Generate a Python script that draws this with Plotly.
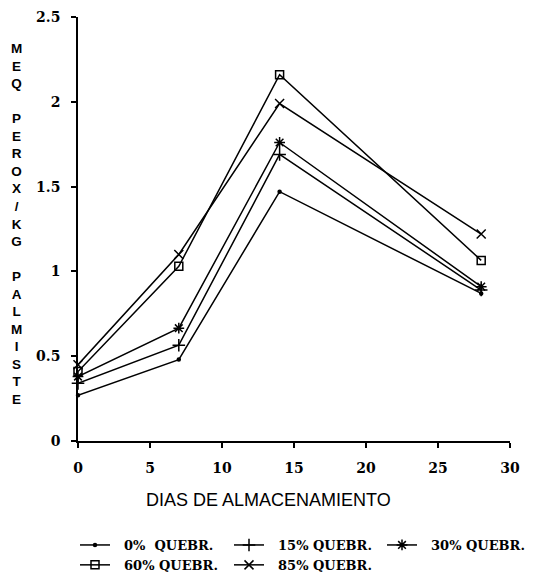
import plotly.graph_objects as go

days = [0, 7, 14, 28]
series_names = ["0%\u00a0\u00a0QUEBR.", "15% QUEBR.", "30% QUEBR.", "60% QUEBR.", "85% QUEBR."]
v0 = [0.27, 0.48, 1.47, 0.87]
v15 = [0.34, 0.565, 1.69, 0.89]
v30 = [0.38, 0.665, 1.76, 0.91]
v60 = [0.41, 1.03, 2.16, 1.065]
v85 = [0.45, 1.10, 1.99, 1.22]
x_ticks = [0, 5, 10, 15, 20, 25, 30]
y_ticks = [0, 0.5, 1, 1.5, 2, 2.5]
y_tick_text = ["0", "0.5", "1", "1.5", "2", "2.5"]
y_title = "MEQ PEROX/KG PALMISTE"
x_title = "DIAS DE ALMACENAMIENTO"

values = [v0, v15, v30, v60, v85]
symbols = ["circle", "cross-thin-open", "asterisk-open", "square-open", "x-thin-open"]
sizes = [3, 9, 9, 8, 9]
legends = ["legend", "legend2", "legend3", "legend", "legend2"]

fig = go.Figure()
for name, vals, sym, sz, lg in zip(series_names, values, symbols, sizes, legends):
    fig.add_trace(go.Scatter(
        x=days, y=vals, mode="lines+markers", name="\u00a0\u00a0" + name,
        line=dict(color="black", width=1.5),
        marker=dict(symbol=sym, size=sz, color="black", line=dict(color="black", width=1.5)),
        legend=lg, cliponaxis=False,
    ))

tickfont = dict(family="DejaVu Serif", size=14, color="black", weight="bold")
legfont = dict(family="DejaVu Serif", size=13, color="black", weight="bold")

def leg(xpix):
    return dict(x=xpix / 548, y=1 - 530 / 582, xref="container", yref="container",
                xanchor="left", yanchor="top", font=legfont, bgcolor="rgba(0,0,0,0)",
                tracegroupgap=0, itemwidth=30)

fig.update_layout(
    width=548, height=582,
    margin=dict(l=78, r=38, t=17, b=141, autoexpand=False),
    plot_bgcolor="white", paper_bgcolor="white",
    showlegend=True,
    legend=leg(75), legend2=leg(229), legend3=leg(382),
    xaxis=dict(range=[0, 30], tickvals=x_ticks, showgrid=False, zeroline=False,
               showline=True, linecolor="black", linewidth=1.5,
               ticks="outside", ticklen=5, tickcolor="black", tickwidth=1.5,
               tickfont=tickfont, ticklabelstandoff=8),
    yaxis=dict(range=[0, 2.5], tickvals=y_ticks, ticktext=y_tick_text, showgrid=False, zeroline=False,
               showline=True, linecolor="black", linewidth=1.5,
               ticks="outside", ticklen=5, tickcolor="black", tickwidth=1.5,
               tickfont=tickfont, ticklabelstandoff=8),
)

fig.add_annotation(text=x_title, xref="paper", yref="paper",
                   x=(268 - 78) / 432, y=-(500 - 441) / 424, xanchor="center", yanchor="middle",
                   showarrow=False,
                   font=dict(family="Liberation Sans", size=18, color="black"))

stacked = "<br>".join(y_title)
fig.add_annotation(text=stacked, xref="paper", yref="paper",
                   x=-(78 - 16) / 432, y=(441 - 224) / 424, xanchor="center", yanchor="middle",
                   showarrow=False, align="center",
                   font=dict(family="Liberation Sans", size=13.5, color="black", weight="bold"))

fig.write_html("out.html")
